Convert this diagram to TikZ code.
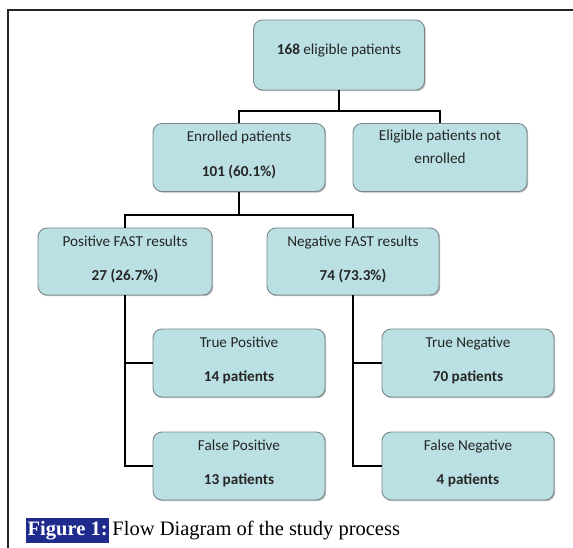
\documentclass[tikz,border=0pt]{standalone}
\usepackage{fontspec}
\setmainfont{Liberation Serif}
\newfontfamily\boxfont{Carlito}
\usetikzlibrary{shadows}
\definecolor{boxfill}{RGB}{186,224,227}
\definecolor{boxline}{RGB}{125,135,137}
\definecolor{capblue}{RGB}{30,42,140}
\definecolor{boxtext}{RGB}{38,38,38}
\newcommand{\twolines}[5]{\begin{minipage}[c][#1][t]{168pt}\centering\boxfont\fontsize{15.2}{18.5}\selectfont\vspace*{#2}#3\\[#4]#5\end{minipage}}
\newcommand{\oneline}[3]{\begin{minipage}[c][#1][t]{168pt}\centering\boxfont\fontsize{15.2}{18.5}\selectfont\vspace*{#2}#3\end{minipage}}
\tikzset{
  fbox/.style={draw=boxline, line width=0.9pt, fill=boxfill, rounded corners=9pt, inner sep=0pt, text=boxtext,
    drop shadow={shadow xshift=1.2pt, shadow yshift=-1.2pt, fill=black!45, opacity=0.6}},
  conn/.style={draw=black, line width=2pt},
  frame/.style={draw=black!85, line width=1.6pt}
}
\begin{document}
\begin{tikzpicture}[x=1pt,y=1pt]
\useasboundingbox (0,0) rectangle (573,-548);
\fill[white] (0,0) rectangle (573,-548);
% frame
\coordinate (fc) at (8,-10);
\coordinate (fr) at (573,-10);
\coordinate (fb) at (8,-548);
\draw[frame] (fr) -- (fc) -- (fb);
% boxes
\node[fbox, minimum width=171pt, minimum height=70pt] (top) at (339,-55) {\oneline{70pt}{23.5pt}{\textbf{168} eligible patients}};
\node[fbox, minimum width=172pt, minimum height=68pt] (enr) at (239,-157.5) {\twolines{68pt}{7.5pt}{Enrolled patients}{16.5pt}{\textbf{101 (60.1\%)}}};
\node[fbox, minimum width=174pt, minimum height=68pt] (not) at (440,-157.5) {\twolines{68pt}{6.6pt}{Eligible patients not}{4.5pt}{enrolled}};
\node[fbox, minimum width=174pt, minimum height=67pt] (pos) at (125,-261.5) {\twolines{67pt}{7.6pt}{Positive FAST results}{15.5pt}{\textbf{27 (26.7\%)}}};
\node[fbox, minimum width=172pt, minimum height=67pt] (neg) at (353,-261.5) {\twolines{67pt}{7.6pt}{Negative FAST results}{15.5pt}{\textbf{74 (73.3\%)}}};
\node[fbox, minimum width=172pt, minimum height=68pt] (tp) at (239,-363) {\twolines{68pt}{8.1pt}{True Positive}{15.5pt}{\textbf{14 patients}}};
\node[fbox, minimum width=172pt, minimum height=68pt] (fp) at (239,-466) {\twolines{68pt}{8.1pt}{False Positive}{15.5pt}{\textbf{13 patients}}};
\node[fbox, minimum width=172pt, minimum height=68pt] (tn) at (468,-363) {\twolines{68pt}{8.1pt}{True Negative}{15.5pt}{\textbf{70 patients}}};
\node[fbox, minimum width=172pt, minimum height=68pt] (fn) at (468,-466) {\twolines{68pt}{8.1pt}{False Negative}{15.5pt}{\textbf{4 patients}}};
% connectors
\coordinate (j1) at (339,-111);
\coordinate (j2) at (239,-215);
\draw[conn] (top.south) -- (j1);
\draw[conn] (enr.north) |- (j1) -| (not.north);
\draw[conn] (enr.south) -- (j2);
\draw[conn] (pos.north) |- (j2) -| (neg.north);
\draw[conn] (pos.south) |- (tp.west);
\draw[conn] (pos.south) |- (fp.west);
\draw[conn] (neg.south) |- (tn.west);
\draw[conn] (neg.south) |- (fn.west);
% caption
\node[anchor=base west, fill=capblue, text=white, inner xsep=1.5pt, inner ysep=3pt, font=\fontsize{20.5}{23}\selectfont\bfseries] (figlab) at (26,-535) {Figure 1:};
\node[anchor=base west, inner sep=0pt, font=\fontsize{20.5}{23}\selectfont] (captxt) at ([xshift=3pt]figlab.base east) {Flow Diagram of the study process};
\end{tikzpicture}
\end{document}
